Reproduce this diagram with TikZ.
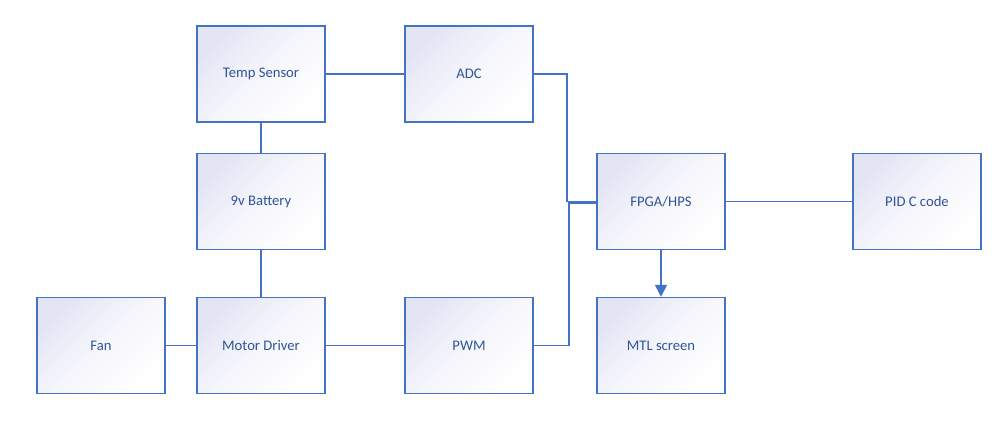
\documentclass[tikz,border=0pt]{standalone}
\usepackage{fontspec}
\setmainfont{Carlito}
\usetikzlibrary{arrows.meta}
\definecolor{lineblue}{HTML}{4472C4}
\definecolor{txtblue}{HTML}{2F5597}
\definecolor{lav}{HTML}{E3E5F4}
\begin{document}
\begin{tikzpicture}[x=0.75pt,y=-0.75pt,
  blk/.style={draw=lineblue,line width=1.1pt,minimum width=96pt,minimum height=72pt,
    top color=lav,bottom color=white,middle color=lav!35,shading angle=45,inner sep=0pt,
    text=txtblue,font=\fontsize{11}{13}\selectfont},
  con/.style={draw=lineblue,line width=1.2pt}]
\fill[white] (0,0) rectangle (1005,431);
\useasboundingbox (0,0) rectangle (1005,431);
\node[blk] (temp) at (261,74) {Temp Sensor};
\node[blk] (adc) at (469,74) {ADC};
\node[blk] (bat) at (261,201.5) {9v Battery};
\node[blk] (fan) at (101,345.5) {Fan};
\node[blk] (mot) at (261,345.5) {Motor Driver};
\node[blk] (pwm) at (469,345.5) {PWM};
\node[blk] (fpga) at (661,201.5) {FPGA/HPS};
\node[blk] (mtl) at (661,345.5) {MTL screen};
\node[blk] (pid) at (917,201.5) {PID C code};
\coordinate (ca) at (567,201.5);
\coordinate (cp) at (569,203);
\draw[con] (temp) -- (adc);
\draw[con] (temp) -- (bat);
\draw[con] (bat) -- (mot);
\draw[con] (fan) -- (mot);
\draw[con] (mot) -- (pwm);
\draw[con] (adc.east) -| (ca) -- (fpga.west);
\draw[con] (pwm.east) -| (cp) -- (fpga.west |- cp);
\draw[con] (fpga) -- (pid);
\draw[con,-{Triangle[length=9pt,width=9pt]}] (fpga) -- (mtl);
\end{tikzpicture}
\end{document}
